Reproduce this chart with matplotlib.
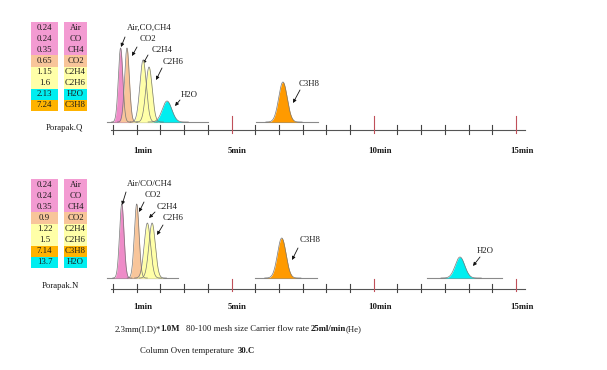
import numpy as np
import matplotlib
matplotlib.use('Agg')
import matplotlib.pyplot as plt
from matplotlib.patches import Rectangle

# ---------------- data ----------------
q_names = ['Air', 'CO', 'CH4', 'CO2', 'C2H4', 'C2H6', 'H2O', 'C3H8']
q_times = ['0.24', '0.24', '0.35', '0.65', '1.15', '1.6', '2.13', '7.24']
n_names = ['Air', 'CO', 'CH4', 'CO2', 'C2H4', 'C2H6', 'C3H8', 'H2O']
n_times = ['0.24', '0.24', '0.35', '0.9', '1.22', '1.5', '7.14', '13.7']

# peaks as drawn (x in tick units, heights in arbitrary units)
q_peak_labels = ['Air,CO,CH4', 'CO2', 'C2H4', 'C2H6', 'H2O', 'C3H8']
q_peak_pos = [0.32, 0.59, 1.27, 1.52, 2.28, 7.17]
q_peak_height = [74, 74, 62, 55, 21, 40]
q_peak_sigma = [0.095, 0.1, 0.135, 0.135, 0.2, 0.18]
q_peak_gas = ['Air', 'CO2', 'C2H4', 'C2H6', 'H2O', 'C3H8']

n_peak_labels = ['Air/CO/CH4', 'CO2', 'C2H4', 'C2H6', 'C3H8', 'H2O']
n_peak_pos = [0.37, 1.0, 1.45, 1.65, 7.12, 14.64]
n_peak_height = [74, 74, 55, 55, 40, 21]
n_peak_sigma = [0.095, 0.1, 0.135, 0.135, 0.18, 0.2]
n_peak_gas = ['Air', 'CO2', 'C2H4', 'C2H6', 'C3H8', 'H2O']

tick_labels = ['1min', '5min', '10min', '15min']
tick_label_pos = [1, 5, 11, 17]
red_ticks = [5, 11, 17]
n_ticks = 18

# ---------------- styles ----------------
gas_color = {'Air': '#F39BD2', 'CO': '#F39BD2', 'CH4': '#F39BD2',
             'CO2': '#F8C59A', 'C2H4': '#FFFFA8', 'C2H6': '#FFFFA8',
             'H2O': '#00EEF0', 'C3H8': '#FFB300'}
peak_color = dict(gas_color)
peak_color['C3H8'] = '#FF9A00'
peak_color['Air'] = '#EE8CC8'

SERIF = ['Liberation Serif', 'DejaVu Serif']
FS = 6.3
TXT = '#1a1a1a'

W, H = 607, 370
fig = plt.figure(figsize=(W / 100, H / 100), dpi=100)
bg = fig.add_axes([0, 0, 1, 1])
bg.set_xlim(0, W)
bg.set_ylim(H, 0)
bg.axis('off')

X0, DX = 113, 23.7   # pixel position of tick 0 and tick spacing


def make_panel(base_px, top_px, bot_px):
    ax = fig.add_axes([(X0 - 0.5 * DX) / W, (H - bot_px) / H,
                       18 * DX / W, (bot_px - top_px) / H])
    ax.set_xlim(-0.5, 17.5)
    ax.set_ylim(base_px - bot_px, base_px - top_px)
    ax.axis('off')
    ax.patch.set_alpha(0)
    return ax


def draw_panel(ax, pos, hts, sig, gases, segments, axis_y, tick_up, tick_dn,
               red_up, red_dn):
    for a, b in segments:
        ax.plot([a, b], [0, 0], color='#8a8a8a', lw=0.8, zorder=1)
    for p, h, s, g in zip(pos, hts, sig, gases):
        x = np.linspace(p - 4 * s, p + 4.5 * s, 200)
        y = h * np.exp(-0.5 * ((x - p) / s) ** 2)
        ax.fill_between(x, 0, y, color=peak_color[g], lw=0, zorder=2)
        ax.plot(x, y, color='#777777', lw=0.5, zorder=3)
    ax.plot([-0.1, 17.4], [axis_y, axis_y], color='#555555', lw=0.8)
    for i in range(n_ticks):
        if i in red_ticks:
            ax.plot([i, i], [axis_y + red_up, axis_y - red_dn],
                    color='#C0505A', lw=0.8)
        else:
            ax.plot([i, i], [axis_y + tick_up, axis_y - tick_dn],
                    color='#444444', lw=0.8)
    for lab, tp in zip(tick_labels, tick_label_pos):
        ax.text(tp + 0.25, -29, lab, ha='center', va='center', fontsize=FS,
                family=SERIF, fontweight='bold', color=TXT)


top = make_panel(122, 15, 145)
draw_panel(top, q_peak_pos, q_peak_height, q_peak_sigma, q_peak_gas,
           [(-0.25, 4.0), (6.03, 8.65)], -8, 5, 4, 14, 3)
bot = make_panel(278, 171, 301)
draw_panel(bot, n_peak_pos, n_peak_height, n_peak_sigma, n_peak_gas,
           [(-0.25, 2.74), (6.0, 8.6), (13.25, 16.4)], -11, 5, 3, 10, 2)


# ---------------- tables ----------------
def draw_table(times, names, y0, y1):
    rh = (y1 - y0) / len(names)
    for i, (t, n) in enumerate(zip(times, names)):
        c = gas_color[n]
        yy = y0 + i * rh
        bg.add_patch(Rectangle((31, yy), 27, rh, facecolor=c, lw=0))
        bg.add_patch(Rectangle((64, yy), 23, rh, facecolor=c, lw=0))
        bg.text(44.5, yy + rh / 2, t, ha='center', va='center', fontsize=FS,
                family=SERIF, color=TXT)
        bg.text(75.5, yy + rh / 2, n, ha='center', va='center', fontsize=FS,
                family=SERIF, color=TXT)


draw_table(q_times, q_names, 22, 111)
draw_table(n_times, n_names, 179, 268)
bg.text(64, 128, 'Porapak.Q', ha='center', va='center', fontsize=FS,
        family=SERIF, color=TXT)
bg.text(60, 286, 'Porapak.N', ha='center', va='center', fontsize=FS,
        family=SERIF, color=TXT)

# ---------------- annotations (pixel layout) ----------------
q_ann = [((127, 28), (125, 37), (121, 47)),
         ((140, 39), (137, 47), (132, 56)),
         ((152, 50), (148, 55), (143, 64)),
         ((163, 62), (162, 68), (156, 80)),
         ((181, 95), (180, 100), (175, 106)),
         ((299, 84), (300, 90), (293, 103))]
n_ann = [((127, 184), (126, 192), (122, 205)),
         ((145, 195), (144, 202), (139, 212)),
         ((157, 207), (155, 212), (149, 218)),
         ((163, 218), (163, 225), (157, 235)),
         ((300, 240), (298, 248), (292, 260)),
         ((477, 251), (480, 257), (473, 266))]
for labels, anns in ((q_peak_labels, q_ann), (n_peak_labels, n_ann)):
    for lab, (tp, a0, a1) in zip(labels, anns):
        bg.text(tp[0], tp[1], lab, ha='left', va='center', fontsize=FS,
                family=SERIF, color=TXT)
        bg.annotate('', xy=a1, xytext=a0,
                    arrowprops=dict(arrowstyle='-|>', lw=0.6, color='#111111',
                                    mutation_scale=5, shrinkA=0, shrinkB=0))

# ---------------- footer text (chained runs) ----------------
renderer = fig.canvas.get_renderer()


def chain(x, y, parts):
    for s, w, gap in parts:
        t = bg.text(x, y, s, ha='left', va='center', fontsize=FS,
                    family=SERIF, fontweight=w, color=TXT)
        bb = t.get_window_extent(renderer=renderer)
        x = x + bb.width * 100 / fig.dpi + gap


chain(115, 329, [('2.3mm(I.D)*', 'normal', -1), ('1.0M', 'bold', 6),
                 ('80-100 mesh size Carrier flow rate', 'normal', 2),
                 ('25ml/min', 'bold', 0), ('(He)', 'normal', 0)])
chain(140, 351, [('Column Oven temperature', 'normal', 4),
                 ('30.C', 'bold', 0)])

fig.savefig('out.png', dpi=100)
